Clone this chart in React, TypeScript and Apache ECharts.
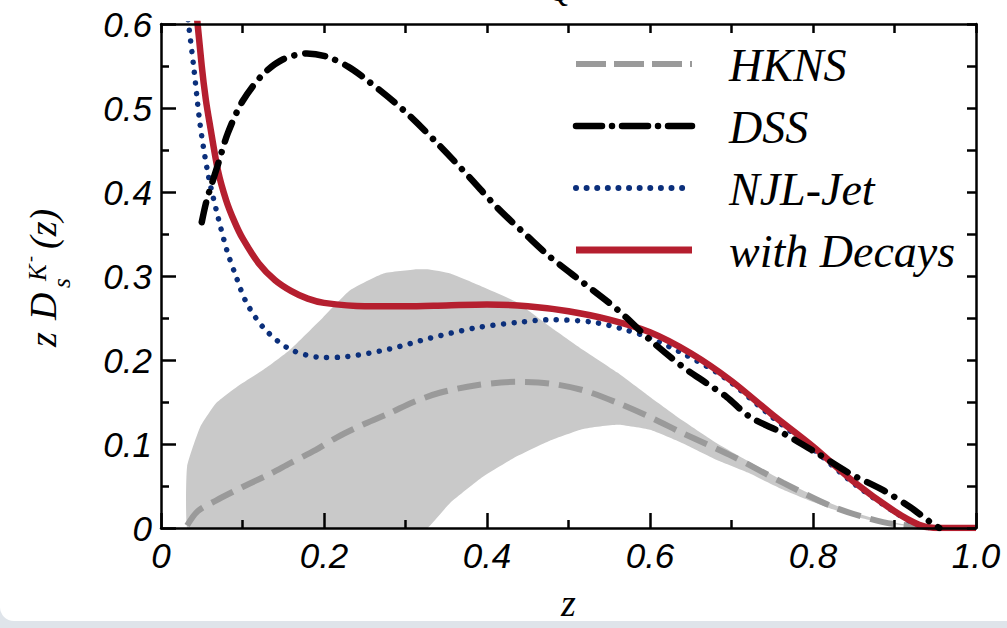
import React, { useEffect, useRef } from "react";
import * as echarts from "echarts";

// HKNS central curve
const hknsZ = [0.032, 0.045, 0.068, 0.09, 0.109, 0.135, 0.158, 0.19, 0.216, 0.25, 0.281, 0.31, 0.342, 0.387, 0.436, 0.477, 0.518, 0.56, 0.6, 0.64, 0.702, 0.763, 0.825, 0.886, 0.927, 0.95];
const hknsY = [0.003, 0.02, 0.033, 0.044, 0.053, 0.065, 0.077, 0.093, 0.108, 0.124, 0.137, 0.15, 0.161, 0.17, 0.174, 0.172, 0.164, 0.149, 0.132, 0.113, 0.085, 0.054, 0.025, 0.007, 0.002, 0];

// HKNS uncertainty band
const bandZ = [0.032, 0.048, 0.068, 0.093, 0.125, 0.158, 0.199, 0.232, 0.273, 0.314, 0.327, 0.355, 0.395, 0.436, 0.477, 0.518, 0.56, 0.6, 0.64, 0.682, 0.72, 0.76, 0.8, 0.84, 0.88, 0.92, 0.95];
const bandLower = [0, 0, 0, 0, 0, 0, 0, 0, 0, 0, 0, 0.03, 0.061, 0.085, 0.104, 0.118, 0.123, 0.117, 0.101, 0.081, 0.066, 0.047, 0.031, 0.017, 0.007, 0.002, 0];
const bandUpper = [0.073, 0.12, 0.149, 0.168, 0.188, 0.212, 0.251, 0.283, 0.303, 0.308, 0.308, 0.303, 0.287, 0.269, 0.24, 0.212, 0.185, 0.156, 0.128, 0.101, 0.08, 0.058, 0.039, 0.022, 0.01, 0.003, 0];

// DSS
const dssZ = [0.05, 0.056, 0.069, 0.082, 0.1, 0.125, 0.15, 0.179, 0.204, 0.23, 0.253, 0.297, 0.339, 0.379, 0.412, 0.45, 0.477, 0.518, 0.56, 0.6, 0.64, 0.67, 0.694, 0.723, 0.763, 0.805, 0.845, 0.886, 0.919, 0.944, 0.955];
const dssY = [0.364, 0.39, 0.43, 0.47, 0.508, 0.54, 0.558, 0.565, 0.561, 0.549, 0.533, 0.498, 0.458, 0.417, 0.382, 0.347, 0.323, 0.292, 0.26, 0.224, 0.192, 0.172, 0.156, 0.132, 0.113, 0.089, 0.065, 0.045, 0.025, 0.007, 0];

// NJL-Jet
const njlZ = [0.03, 0.04, 0.048, 0.058, 0.07, 0.081, 0.09, 0.105, 0.128, 0.16, 0.2, 0.228, 0.28, 0.33, 0.385, 0.44, 0.48, 0.53, 0.57, 0.6, 0.64, 0.69, 0.75, 0.8, 0.85, 0.9, 0.93, 0.95, 1.0];
const njlY = [0.63, 0.55, 0.48, 0.42, 0.37, 0.33, 0.305, 0.268, 0.236, 0.212, 0.203, 0.204, 0.213, 0.226, 0.238, 0.245, 0.248, 0.245, 0.236, 0.226, 0.208, 0.18, 0.132, 0.094, 0.053, 0.019, 0.003, 0, 0];

// NJL-Jet with decays
const decZ = [0.04, 0.05, 0.055, 0.06, 0.07, 0.08, 0.09, 0.1, 0.12, 0.14, 0.16, 0.18, 0.2, 0.25, 0.3, 0.35, 0.4, 0.45, 0.5, 0.55, 0.6, 0.65, 0.7, 0.75, 0.8, 0.85, 0.9, 0.93, 0.95, 1.0];
const decY = [0.65, 0.55, 0.51, 0.48, 0.425, 0.39, 0.365, 0.345, 0.315, 0.295, 0.282, 0.273, 0.268, 0.264, 0.264, 0.265, 0.266, 0.264, 0.258, 0.248, 0.233, 0.208, 0.175, 0.135, 0.097, 0.055, 0.02, 0.004, 0, 0];

const legendNames = ["HKNS", "DSS", "NJL-Jet", "with Decays"];

const pairs = (xs: number[], ys: number[]) => xs.map((x, i) => [x, ys[i]]);

const SANS = "Liberation Sans";
const SERIF = "Liberation Serif";

const GRAY = "#9a9a9a";
const BAND = "#c9c9c9";
const BLUE = "#0b2f7b";
const RED = "#b51f2f";

export default function App() {
  const ref = useRef<HTMLDivElement>(null);

  useEffect(() => {
    const chart = echarts.init(ref.current!, null, { renderer: "svg" });

    const tickLine = { color: "#000", width: 2.5 };
    const labelStyle = {
      fontSize: 35,
      fontStyle: "italic",
      fontFamily: SANS,
      color: "#000",
    };
    const fmt = (v: number) => (v === 0 ? "0" : v.toFixed(1));

    const serifText = (text: string, x: number, y: number, size: number) => ({
      type: "text",
      x,
      y,
      z: 100,
      style: {
        text,
        fontFamily: SERIF,
        fontStyle: "italic",
        fontSize: size,
        fill: "#000",
        verticalAlign: "middle",
        align: "left",
      },
    });

    const legendY = [64, 126, 188, 250];
    const legendStyles = [
      { stroke: GRAY, lineWidth: 6, lineDash: [30, 8], lineCap: "butt" },
      { stroke: "#000", lineWidth: 6.5, lineDash: [26, 10, 0.01, 10], lineCap: "round" },
      { stroke: BLUE, lineWidth: 6, lineDash: [0.01, 10.6], lineCap: "round" },
      { stroke: RED, lineWidth: 7, lineCap: "butt" },
    ];

    const legendGraphics: any[] = [];
    legendNames.forEach((name, i) => {
      legendGraphics.push({
        type: "line",
        z: 100,
        shape: { x1: 576, y1: legendY[i], x2: 692, y2: legendY[i] },
        style: legendStyles[i],
      });
      legendGraphics.push(serifText(name, 729, legendY[i] + 1, 46));
    });

    // band outline: lower edge left to right, then upper edge back
    const bandOutline = [
      ...bandZ.map((z, i) => [z, bandLower[i]]),
      ...bandZ.map((z, i) => [z, bandUpper[i]]).reverse(),
    ];

    const option: any = {
      animation: false,
      grid: { left: 161, right: 31, top: 24, bottom: 100, containLabel: false },
      xAxis: [
        {
          type: "value",
          min: 0,
          max: 1,
          interval: 0.2,
          position: "bottom",
          axisLine: { show: true, onZero: false, lineStyle: tickLine },
          axisTick: { show: true, inside: true, length: 15, lineStyle: tickLine },
          minorTick: { show: true, splitNumber: 2, length: 8, lineStyle: tickLine },
          splitLine: { show: false },
          minorSplitLine: { show: false },
          axisLabel: { ...labelStyle, margin: 10, formatter: fmt, showMinLabel: true, showMaxLabel: true },
          name: "z",
          nameLocation: "middle",
          nameGap: 56,
          nameTextStyle: { fontFamily: SERIF, fontStyle: "italic", fontSize: 38, color: "#000" },
          z: 10,
        },
        {
          type: "value",
          min: 0,
          max: 1,
          interval: 0.1,
          position: "top",
          axisLine: { show: true, onZero: false, lineStyle: tickLine },
          axisTick: { show: true, inside: true, length: 9, lineStyle: tickLine },
          splitLine: { show: false },
          axisLabel: { show: false },
          z: 10,
        },
      ],
      yAxis: [
        {
          type: "value",
          min: 0,
          max: 0.6,
          interval: 0.1,
          position: "left",
          axisLine: { show: true, onZero: false, lineStyle: tickLine },
          axisTick: { show: true, inside: true, length: 15, lineStyle: tickLine },
          minorTick: { show: true, splitNumber: 2, length: 8, lineStyle: tickLine },
          splitLine: { show: false },
          minorSplitLine: { show: false },
          axisLabel: { ...labelStyle, margin: 9, formatter: fmt, showMinLabel: true, showMaxLabel: true },
          z: 10,
        },
        {
          type: "value",
          min: 0,
          max: 0.6,
          interval: 0.05,
          position: "right",
          axisLine: { show: true, onZero: false, lineStyle: tickLine },
          axisTick: { show: true, inside: true, length: 9, lineStyle: tickLine },
          splitLine: { show: false },
          axisLabel: { show: false },
          z: 10,
        },
      ],
      series: [
        {
          name: "HKNS band",
          type: "custom",
          data: [[0, 0]],
          clip: true,
          z: 1,
          renderItem: (params: any, api: any) => {
            if (params.dataIndex !== 0) return null;
            const pts = bandOutline.map((p) => api.coord(p));
            return {
              type: "polygon",
              shape: { points: pts, smooth: 0.15 },
              style: { fill: BAND, stroke: null },
            };
          },
        },
        {
          name: "HKNS",
          type: "line",
          data: pairs(hknsZ, hknsY),
          smooth: 0.3,
          showSymbol: false,
          symbol: "none",
          lineStyle: { color: GRAY, width: 6, type: [24, 10], cap: "butt" },
          z: 2,
        },
        {
          name: "NJL-Jet",
          type: "line",
          data: pairs(njlZ, njlY),
          smooth: 0.3,
          showSymbol: false,
          symbol: "none",
          lineStyle: { color: BLUE, width: 5.5, type: [0.01, 10.6], cap: "round" },
          z: 3,
        },
        {
          name: "with Decays",
          type: "line",
          data: pairs(decZ, decY),
          smooth: 0.3,
          showSymbol: false,
          symbol: "none",
          lineStyle: { color: RED, width: 6.5, type: "solid" },
          z: 4,
        },
        {
          name: "DSS",
          type: "line",
          data: pairs(dssZ, dssY),
          smooth: 0.3,
          showSymbol: false,
          symbol: "none",
          lineStyle: { color: "#000", width: 6.5, type: [20, 11, 0.01, 11], cap: "round" },
          z: 5,
        },
      ],
      graphic: [
        ...legendGraphics,
        {
          type: "group",
          x: 55,
          y: 347,
          rotation: Math.PI / 2,
          z: 100,
          children: [
            serifText("z", 0, -12, 38),
            serifText("D", 27, -12, 38),
            serifText("K", 66, -18, 25),
            serifText("-", 85, -25, 18),
            serifText("s", 59, 6, 25),
            serifText("(z)", 98, -12, 38),
          ],
        },
        {
          type: "text",
          x: 548,
          y: 6,
          z: 100,
          style: {
            text: "Q",
            fontFamily: SERIF,
            fontStyle: "italic",
            fontSize: 32,
            fill: "#000",
            verticalAlign: "bottom",
            align: "left",
          },
        },
      ],
    };

    chart.setOption(option);
    return () => chart.dispose();
  }, []);

  return (
    <div
      style={{
        position: "absolute",
        left: 0,
        top: 0,
        width: 1007,
        height: 628,
        background: "#dfe4ea",
        overflow: "hidden",
      }}
    >
      <div
        style={{
          position: "absolute",
          left: 0,
          top: 0,
          width: 1007,
          height: 621,
          background: "#ffffff",
          borderBottomLeftRadius: 14,
        }}
      />
      <div
        ref={ref}
        style={{ position: "absolute", left: 0, top: 0, width: 1007, height: 628 }}
      />
    </div>
  );
}
